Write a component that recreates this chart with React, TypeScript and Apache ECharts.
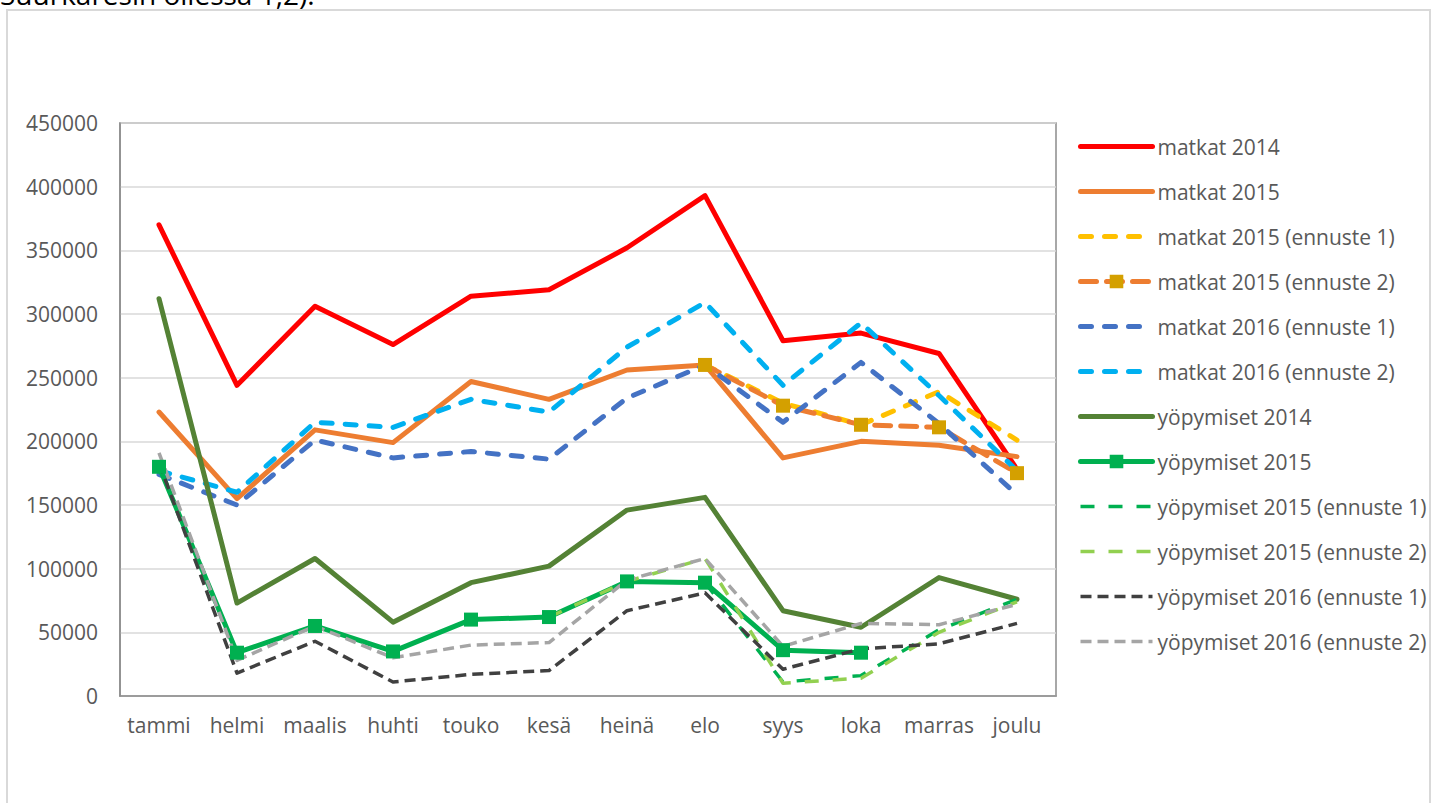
import React, { useEffect, useRef } from "react";
import * as echarts from "echarts";

const categories = ["tammi", "helmi", "maalis", "huhti", "touko", "kesä", "heinä", "elo", "syys", "loka", "marras", "joulu"];

const matkat2014 = [370000, 244000, 306000, 276000, 314000, 319000, 352000, 393000, 279000, 285000, 269000, 178000];
const matkat2015 = [223000, 155000, 209000, 199000, 247000, 233000, 256000, 260000, 187000, 200000, 197000, 188000];
const matkat2015e1 = [null, null, null, null, null, null, null, 260000, 230000, 213000, 239000, 201000];
const matkat2015e2 = [null, null, null, null, null, null, null, 260000, 228000, 213000, 211000, 175000];
const matkat2016e1 = [174000, 150000, 201000, 187000, 192000, 186000, 234000, 260000, 215000, 262000, 214000, 158000];
const matkat2016e2 = [177000, 160000, 215000, 211000, 233000, 223000, 274000, 309000, 244000, 293000, 236000, 177000];
const yop2014 = [312000, 73000, 108000, 58000, 89000, 102000, 146000, 156000, 67000, 54000, 93000, 76000];
const yop2015 = [180000, 34000, 55000, 35000, 60000, 62000, 90000, 89000, 36000, 34000, null, null];
const yop2015e1 = [null, null, null, null, null, null, null, 89000, 11000, 16000, 52000, 76000];
const yop2015e2 = [null, null, null, null, null, 62000, 90000, 108000, 10000, 14000, 50000, 74000];
const yop2016e1 = [183000, 18000, 43000, 11000, 17000, 20000, 67000, 81000, 21000, 37000, 41000, 57000];
const yop2016e2 = [191000, 28000, 55000, 30000, 40000, 42000, 91000, 108000, 39000, 57000, 56000, 72000];

const FONT = "'Open Sans', sans-serif";
const TEXT = "#595959";

type Mark = { color: string; size: number } | undefined;

function line(name: string, data: (number | null)[], color: string, width: number, type: any, cap: string, symbol?: Mark) {
  return {
    name,
    type: "line",
    data,
    connectNulls: false,
    symbol: symbol ? "rect" : "none",
    symbolSize: symbol ? symbol.size : 0,
    showSymbol: !!symbol,
    itemStyle: { color: symbol ? symbol.color : color },
    lineStyle: { color, width, type, cap, join: "round" },
    emphasis: { disabled: true },
  };
}

const seriesList = [
  line("matkat 2014", matkat2014, "#FF0000", 5, "solid", "round"),
  line("matkat 2015", matkat2015, "#ED7D31", 5, "solid", "round"),
  line("matkat 2015 (ennuste 1)", matkat2015e1, "#FFC000", 5, [11, 13], "round"),
  line("matkat 2015 (ennuste 2)", matkat2015e2, "#ED7D31", 5, [16, 10], "round", { color: "#D4A000", size: 14 }),
  line("matkat 2016 (ennuste 1)", matkat2016e1, "#4472C4", 5, [11, 13], "round"),
  line("matkat 2016 (ennuste 2)", matkat2016e2, "#00B0F0", 5, [11, 13], "round"),
  line("yöpymiset 2014", yop2014, "#548235", 5, "solid", "round"),
  line("yöpymiset 2015", yop2015, "#00B050", 5, "solid", "round", { color: "#00B050", size: 14 }),
  line("yöpymiset 2015 (ennuste 1)", yop2015e1, "#00B050", 3.5, [14, 14], "butt"),
  line("yöpymiset 2015 (ennuste 2)", yop2015e2, "#92D050", 3.5, [14, 14], "butt"),
  line("yöpymiset 2016 (ennuste 1)", yop2016e1, "#404040", 3.5, [11, 6], "butt"),
  line("yöpymiset 2016 (ennuste 2)", yop2016e2, "#A5A5A5", 3.5, [11, 6], "butt"),
];

export default function App() {
  const ref = useRef<HTMLDivElement>(null);
  useEffect(() => {
    const chart = echarts.init(ref.current!, null, { renderer: "svg" });
    chart.setOption({
      animation: false,
      backgroundColor: "#ffffff",
      textStyle: { fontFamily: FONT },
      graphic: [
        {
          type: "text",
          left: 0,
          top: -20,
          style: { text: "Suurkaresin oliessa 1,2).", fontSize: 28, fontFamily: FONT, fill: "#000" },
        },
        {
          type: "rect",
          shape: { x: 7, y: 10, width: 1423, height: 800 },
          style: { fill: "none", stroke: "#d9d9d9", lineWidth: 2 },
          silent: true,
        },
      ],
      grid: {
        left: 120,
        top: 123,
        width: 936,
        height: 573,
        show: true,
        borderColor: "#8c8c8c",
        borderWidth: 1.5,
        backgroundColor: "transparent",
      },
      legend: {
        orient: "vertical",
        left: 1078,
        top: 136,
        padding: 0,
        itemWidth: 72,
        itemHeight: 17,
        itemGap: 24,
        textStyle: { color: TEXT, fontSize: 21, fontFamily: FONT },
        selectedMode: false,
        data: seriesList.map((s) => ({
          name: s.name,
          itemStyle: s.showSymbol ? { color: s.itemStyle.color } : { opacity: 0 },
          lineStyle: {
            color: s.lineStyle.color,
            width: s.lineStyle.width,
            type: s.lineStyle.type,
            cap: s.lineStyle.cap,
          },
        })),
      },
      xAxis: {
        type: "category",
        data: categories,
        boundaryGap: true,
        axisTick: { show: false },
        axisLine: { show: true, lineStyle: { color: "#8c8c8c", width: 1.5 } },
        axisLabel: { color: TEXT, fontSize: 21, fontFamily: FONT, margin: 18, interval: 0 },
      },
      yAxis: {
        type: "value",
        min: 0,
        max: 450000,
        interval: 50000,
        axisLine: { show: true, lineStyle: { color: "#8c8c8c", width: 1.5 } },
        axisTick: { show: false },
        axisLabel: { color: TEXT, fontSize: 21, fontFamily: FONT, margin: 22, formatter: (v: number) => String(v) },
        splitLine: { lineStyle: { color: "#d9d9d9", width: 1.5 } },
      },
      series: seriesList,
    });
    return () => chart.dispose();
  }, []);
  return <div ref={ref} style={{ position: "fixed", left: 0, top: 0, width: 1433, height: 803 }} />;
}
